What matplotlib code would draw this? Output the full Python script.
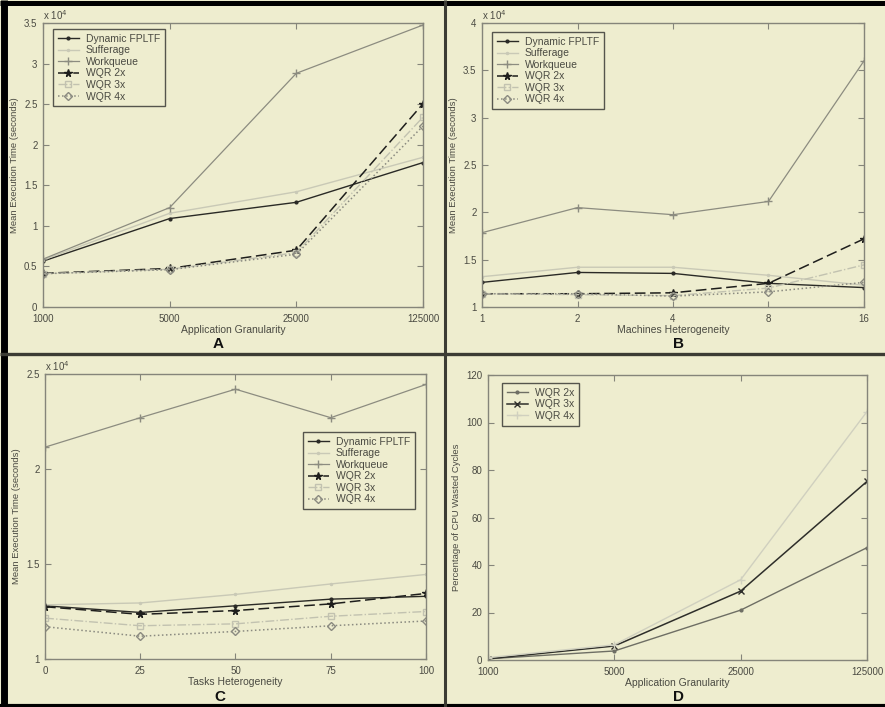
import matplotlib
matplotlib.use("Agg")
import matplotlib.pyplot as plt
from matplotlib.lines import Line2D

plt.rcParams['font.family'] = ['Liberation Sans', 'DejaVu Sans']

BG = '#eeedcf'
TXT = '#4a4a42'
FRAME = '#85857a'

# ---- data ----
series_names = ['Dynamic FPLTF', 'Sufferage', 'Workqueue', 'WQR 2x', 'WQR 3x', 'WQR 4x']

gran_x = [1000, 5000, 25000, 125000]
gran_fpltf = [5650, 10900, 12900, 17800]
gran_suff = [5800, 11550, 14200, 18450]
gran_wq = [5900, 12250, 28800, 34750]
gran_wqr2 = [4150, 4750, 7000, 25050]
gran_wqr3 = [4100, 4650, 6700, 23400]
gran_wqr4 = [4100, 4600, 6500, 22300]

mach_x = [1, 2, 4, 8, 16]
mach_fpltf = [12600, 13650, 13550, 12500, 12050]
mach_suff = [13200, 14200, 14200, 13350, 12300]
mach_wq = [17850, 20500, 19750, 21150, 36000]
mach_wqr2 = [11400, 11400, 11500, 12500, 17200]
mach_wqr3 = [11400, 11300, 11200, 12000, 14450]
mach_wqr4 = [11400, 11400, 11150, 11600, 12600]

task_x = [0, 25, 50, 75, 100]
task_fpltf = [12800, 12450, 12800, 13150, 13300]
task_suff = [12850, 12950, 13400, 13950, 14450]
task_wq = [21150, 22700, 24200, 22700, 24450]
task_wqr2 = [12750, 12350, 12550, 12900, 13450]
task_wqr3 = [12150, 11750, 11850, 12250, 12500]
task_wqr4 = [11700, 11200, 11450, 11750, 12000]

waste_names = ['WQR 2x', 'WQR 3x', 'WQR 4x']
waste_wqr2 = [0.5, 3.8, 21.0, 47.3]
waste_wqr3 = [0.5, 5.9, 29.0, 75.2]
waste_wqr4 = [1.0, 6.4, 33.8, 104.6]

styles = [
    dict(color='#2a2a26', ls='-', marker='.', ms=4, lw=1.0),
    dict(color='#c9c9b6', ls='-', marker='.', ms=3, lw=1.0),
    dict(color='#8c8c80', ls='-', marker='+', ms=6, lw=0.9),
    dict(color='#1e1e1c', ls=(0, (7, 3)), marker='*', ms=5.5, lw=1.1),
    dict(color='#c2c2b0', ls='-.', marker='s', ms=4.5, lw=1.0, mfc='none'),
    dict(color='#8a8a80', ls=':', marker='D', ms=4, lw=1.1, mfc='none'),
]
waste_styles = [
    dict(color='#6e6e64', ls='-', marker='.', ms=4, lw=1.0),
    dict(color='#2e2e2a', ls='-', marker='x', ms=4, lw=1.1),
    dict(color='#d0d0bf', ls='-', marker='+', ms=6, lw=1.0),
]

W, H = 885, 707
fig = plt.figure(figsize=(W / 100, H / 100), dpi=100, facecolor=BG)


def px_axes(l, t, r, b):
    return fig.add_axes([l / W, 1 - b / H, (r - l) / W, (b - t) / H], facecolor=BG)


def style_axes(ax):
    for s in ax.spines.values():
        s.set_color(FRAME)
        s.set_linewidth(1.0)
    ax.tick_params(direction='in', length=4, width=0.8, color=FRAME,
                   top=True, right=True, labelsize=7, labelcolor=TXT)
    ax.tick_params(axis='x', pad=5)
    ax.tick_params(axis='y', pad=4)
    ax.minorticks_off()


def add_legend(ax, x, y, names):
    leg = ax.legend(names, loc='upper left', bbox_to_anchor=(x / W, 1 - y / H),
                    bbox_transform=fig.transFigure, fontsize=7.5, frameon=True,
                    fancybox=False, edgecolor='#55554d', facecolor=BG, framealpha=1,
                    labelspacing=0.15, handlelength=2.0, borderpad=0.45,
                    handletextpad=0.7, borderaxespad=0)
    leg.get_frame().set_linewidth(1.0)
    for t in leg.get_texts():
        t.set_color(TXT)


# ---- A ----
axA = px_axes(43, 23, 423, 307)
for ys, st in zip([gran_fpltf, gran_suff, gran_wq, gran_wqr2, gran_wqr3, gran_wqr4], styles):
    axA.plot(gran_x, [v / 1e4 for v in ys], **st)
axA.set_xscale('log')
axA.set_xlim(1000, 125000)
axA.set_xticks(gran_x)
axA.set_xticklabels([str(v) for v in gran_x])
axA.set_ylim(0, 3.5)
axA.set_yticks([0, 0.5, 1, 1.5, 2, 2.5, 3, 3.5])
axA.set_yticklabels(['0', '0.5', '1', '1.5', '2', '2.5', '3', '3.5'])
style_axes(axA)
axA.set_xlabel('Application Granularity', fontsize=7.5, color=TXT, labelpad=1)
axA.set_ylabel('Mean Execution Time (seconds)', fontsize=6.8, color=TXT, labelpad=4)
axA.text(0.0, 1.012, r'x 10$^4$', transform=axA.transAxes, fontsize=7, color=TXT)
add_legend(axA, 53, 29, series_names)

# ---- B ----
axB = px_axes(482, 23, 864, 307)
for ys, st in zip([mach_fpltf, mach_suff, mach_wq, mach_wqr2, mach_wqr3, mach_wqr4], styles):
    axB.plot(mach_x, [v / 1e4 for v in ys], **st)
axB.set_xscale('log', base=2)
axB.set_xlim(1, 16)
axB.set_xticks(mach_x)
axB.set_xticklabels([str(v) for v in mach_x])
axB.set_ylim(1, 4)
axB.set_yticks([1, 1.5, 2, 2.5, 3, 3.5, 4])
axB.set_yticklabels(['1', '1.5', '2', '2.5', '3', '3.5', '4'])
style_axes(axB)
axB.set_xlabel('Machines Heterogeneity', fontsize=7.5, color=TXT, labelpad=1)
axB.set_ylabel('Mean Execution Time (seconds)', fontsize=6.8, color=TXT, labelpad=4)
axB.text(0.0, 1.012, r'x 10$^4$', transform=axB.transAxes, fontsize=7, color=TXT)
add_legend(axB, 492, 32, series_names)

# ---- C ----
axC = px_axes(45, 374, 426, 659)
for ys, st in zip([task_fpltf, task_suff, task_wq, task_wqr2, task_wqr3, task_wqr4], styles):
    axC.plot(task_x, [v / 1e4 for v in ys], **st)
axC.set_xlim(0, 100)
axC.set_xticks(task_x)
axC.set_ylim(1, 2.5)
axC.set_yticks([1, 1.5, 2, 2.5])
axC.set_yticklabels(['1', '1.5', '2', '2.5'])
style_axes(axC)
axC.set_xlabel('Tasks Heterogeneity', fontsize=7.5, color=TXT, labelpad=1)
axC.set_ylabel('Mean Execution Time (seconds)', fontsize=6.8, color=TXT, labelpad=4)
axC.text(0.0, 1.012, r'x 10$^4$', transform=axC.transAxes, fontsize=7, color=TXT)
add_legend(axC, 303, 432, series_names)

# ---- D ----
axD = px_axes(488, 375, 867, 660)
for ys, st in zip([waste_wqr2, waste_wqr3, waste_wqr4], waste_styles):
    axD.plot(gran_x, ys, **st)
axD.set_xscale('log')
axD.set_xlim(1000, 125000)
axD.set_xticks(gran_x)
axD.set_xticklabels([str(v) for v in gran_x])
axD.set_ylim(0, 120)
axD.set_yticks([0, 20, 40, 60, 80, 100, 120])
style_axes(axD)
axD.set_xlabel('Application Granularity', fontsize=7.5, color=TXT, labelpad=1)
axD.set_ylabel('Percentage of CPU Wasted Cycles', fontsize=6.8, color=TXT, labelpad=4)
add_legend(axD, 502, 383, waste_names)

# panel letters
for lab, x, y in [('A', 218, 344), ('B', 679, 344), ('C', 220, 697), ('D', 679, 697)]:
    fig.text(x / W, 1 - y / H, lab, fontsize=11, fontweight='bold', color='#111111',
             ha='center', va='center')


# frame: black outer border and dark dividers
def hline(y, x0, x1, lw, c):
    fig.add_artist(Line2D([x0 / W, x1 / W], [1 - y / H, 1 - y / H], lw=lw, color=c,
                          transform=fig.transFigure, solid_capstyle='butt'))


def vline(x, y0, y1, lw, c):
    fig.add_artist(Line2D([x / W, x / W], [1 - y0 / H, 1 - y1 / H], lw=lw, color=c,
                          transform=fig.transFigure, solid_capstyle='butt'))


hline(2.5, 0, W, 3.6, '#000000')
hline(705.5, 0, W, 3.0, '#000000')
vline(3.5, 0, H, 5.0, '#000000')
vline(445.5, 0, H, 2.2, '#3c3c34')
hline(353.5, 0, W, 2.4, '#3c3c34')

fig.savefig('out.png', dpi=100, facecolor=BG)
